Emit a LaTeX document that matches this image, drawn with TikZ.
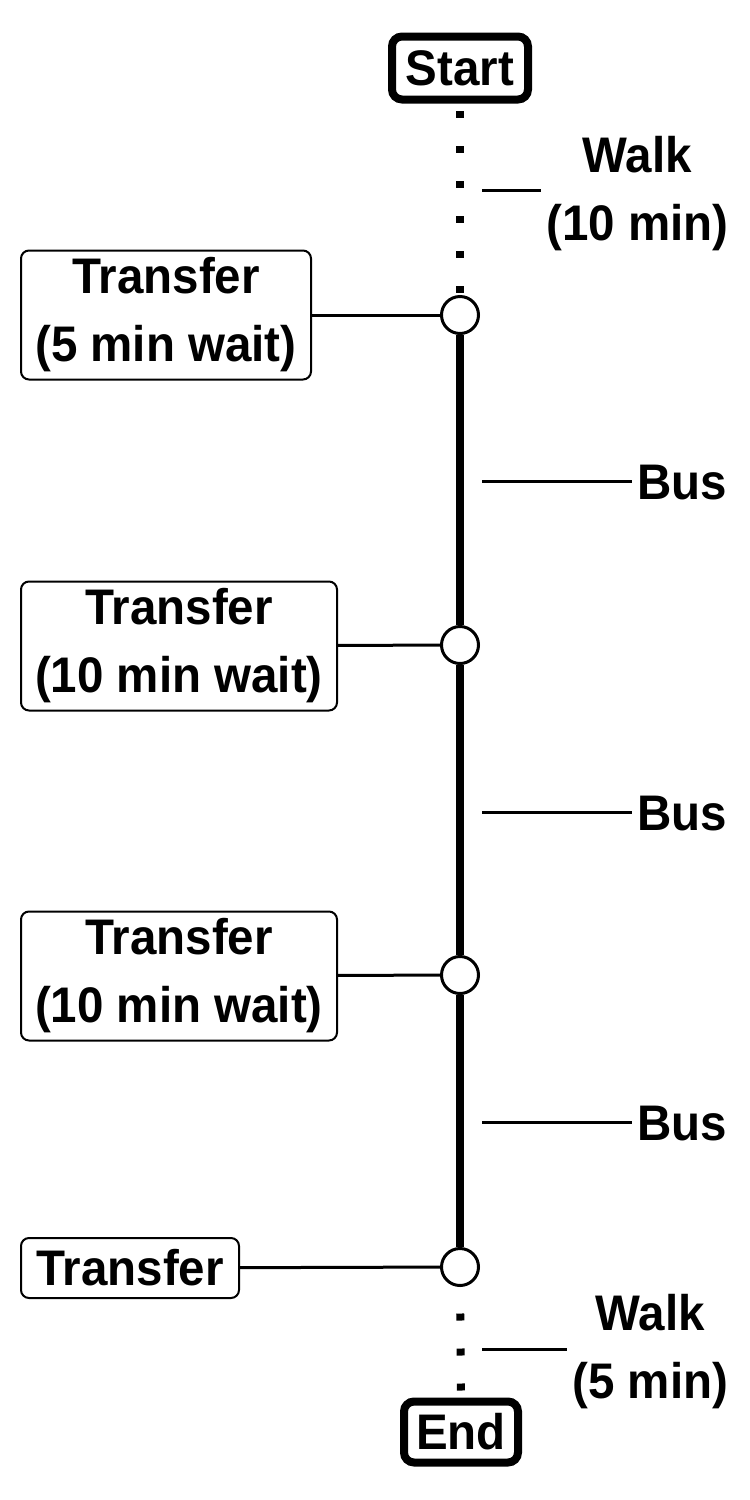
\documentclass[tikz,border=0pt]{standalone}
\usepackage{fontspec}
\setmainfont{Liberation Sans}[FakeStretch=0.95]
\begin{document}
\begin{tikzpicture}[
  x=0.5pt, y=-0.5pt,
  every node/.style={font=\bfseries\fontsize{25}{34}\selectfont, align=center, inner sep=0pt},
  endpoint/.style={draw, line width=4pt, rounded corners=5pt, fill=white},
  stopbox/.style={draw, line width=1pt, rounded corners=4pt, fill=white},
  stopdot/.style={circle, draw, line width=1.5pt, fill=white, minimum size=18.5pt},
  rail/.style={line width=4pt},
  walkway/.style={line width=4pt, dash pattern=on 3.5pt off 14pt},
  link/.style={line width=1.5pt},
  tag/.style={inner sep=2.5pt}
]
\useasboundingbox (0,0) rectangle (750,1500);

% terminals
\node[endpoint, minimum width=68pt, minimum height=31.5pt] (start) at (460,68) {Start};
\node[endpoint, minimum width=57pt, minimum height=30.5pt] (end) at (461,1432) {End};

% stops along the route
\node[stopdot] (c1) at (460,315) {};
\node[stopdot] (c2) at (460,645) {};
\node[stopdot] (c3) at (460,975) {};
\node[stopdot] (c4) at (460,1267) {};

% transfer boxes
\node[stopbox, minimum width=145pt, minimum height=64.5pt] (t1) at (166,315) {Transfer\\(5 min wait)};
\node[stopbox, minimum width=158pt, minimum height=64.5pt] (t2) at (179,646) {Transfer\\(10 min wait)};
\node[stopbox, minimum width=158pt, minimum height=64.5pt] (t3) at (179,976) {Transfer\\(10 min wait)};
\node[stopbox, minimum width=109pt, minimum height=30pt] (t4) at (130,1268) {Transfer};

% route segments
\draw[walkway, dash phase=13.75pt] (start.south) -- (c1.north);
\draw[rail] (c1) -- (c2) (c2) -- (c3) (c3) -- (c4);
\draw[walkway, dash phase=4.25pt] (c4.south) -- (end.north);

% transfers to stops
\draw[link] (t1) -- (c1);
\draw[link] (t2) -- (c2);
\draw[link] (t3) -- (c3);
\draw[link] (t4) -- (c4);

% segment labels
\node[tag, anchor=west] (w1) at (541,194) {Walk\\(10 min)};
\node[tag, anchor=west] (b1) at (632,483) {Bus};
\node[tag, anchor=west] (b2) at (632,814) {Bus};
\node[tag, anchor=west] (b3) at (632,1124) {Bus};
\node[tag, anchor=west] (w2) at (567,1352) {Walk\\(5 min)};

\coordinate (k1) at (482,190);
\coordinate (k2) at (482,481);
\coordinate (k3) at (482,812);
\coordinate (k4) at (482,1122);
\coordinate (k5) at (482,1349);
\draw[link] (k1) -- (k1 -| w1.west);
\draw[link] (k2) -- (k2 -| b1.west);
\draw[link] (k3) -- (k3 -| b2.west);
\draw[link] (k4) -- (k4 -| b3.west);
\draw[link] (k5) -- (k5 -| w2.west);
\end{tikzpicture}
\end{document}
